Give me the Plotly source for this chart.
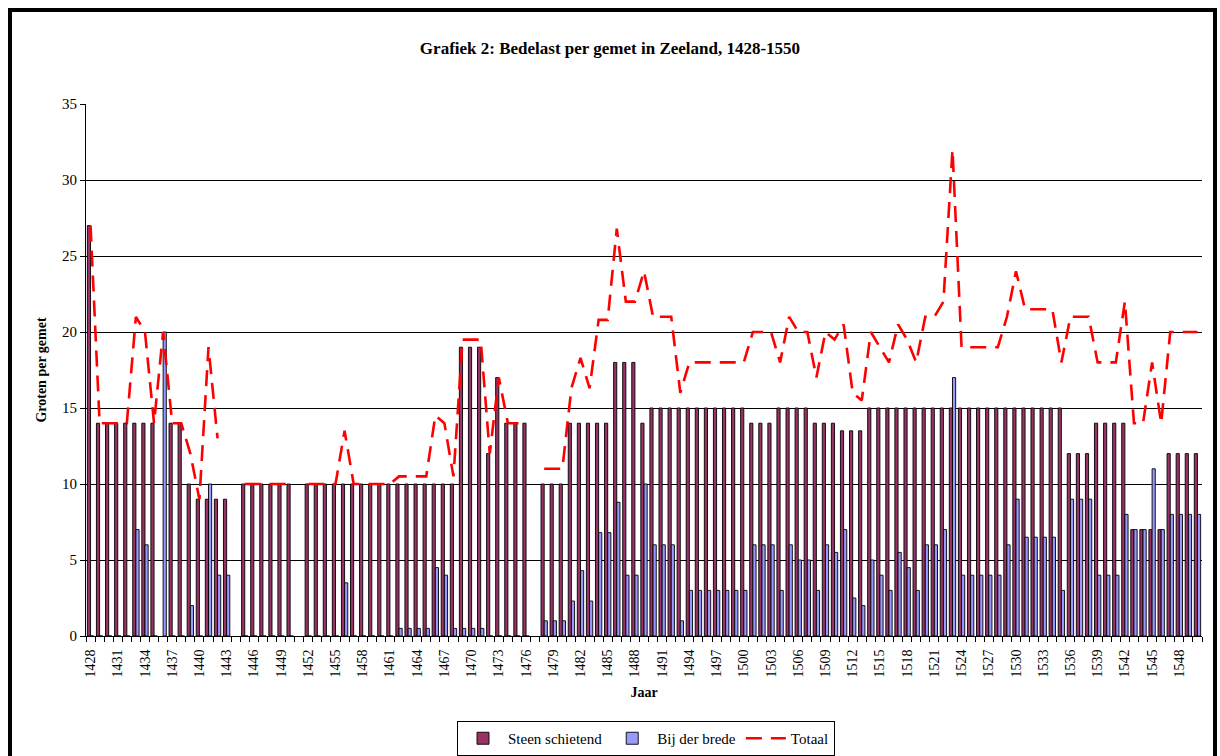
import plotly.graph_objects as go

# ---- data ----
years = list(range(1428, 1551))

steen_schietend = [
    27, 14, 14, 14, 14, 14, 14, 14, None, 14,          # 1428-1437
    14, 10, 9, 9, 9, 9, None, 10, 10, 10,              # 1438-1447
    10, 10, 10, None, 10, 10, 10, 10, 10, 10,          # 1448-1457
    10, 10, 10, 10, 10, 10, 10, 10, 10, 10,            # 1458-1467
    10, 19, 19, 19, 12, 17, 14, 14, 14, None,          # 1468-1477
    10, 10, 10, 14, 14, 14, 14, 14, 18, 18,            # 1478-1487
    18, 14, 15, 15, 15, 15, 15, 15, 15, 15,            # 1488-1497
    15, 15, 15, 14, 14, 14, 15, 15, 15, 15,            # 1498-1507
    14, 14, 14, 13.5, 13.5, 13.5, 15, 15, 15, 15,      # 1508-1517
    15, 15, 15, 15, 15, 15, 15, 15, 15, 15,            # 1518-1527
    15, 15, 15, 15, 15, 15, 15, 15, 12, 12,            # 1528-1537
    12, 14, 14, 14, 14, 7, 7, 7, 7, 12,                # 1538-1547
    12, 12, 12,                                        # 1548-1550
]

bij_der_brede = [
    0, 0, 0, 0, 0, 7, 6, 0, 20, 0,                     # 1428-1437
    0, 2, 0, 10, 4, 4, None, 0, 0, 0,                  # 1438-1447
    0, 0, 0, None, 0, 0, 0, 0, 3.5, 0,                 # 1448-1457
    0, 0, 0, 0, 0.5, 0.5, 0.5, 0.5, 4.5, 4,            # 1458-1467
    0.5, 0.5, 0.5, 0.5, 0, 0, 0, 0, 0, None,           # 1468-1477
    1, 1, 1, 2.3, 4.3, 2.3, 6.8, 6.8, 8.8, 4,          # 1478-1487
    4, 10, 6, 6, 6, 1, 3, 3, 3, 3,                     # 1488-1497
    3, 3, 3, 6, 6, 6, 3, 6, 5, 5,                      # 1498-1507
    3, 6, 5.5, 7, 2.5, 2, 5, 4, 3, 5.5,                # 1508-1517
    4.5, 3, 6, 6, 7, 17, 4, 4, 4, 4,                   # 1518-1527
    4, 6, 9, 6.5, 6.5, 6.5, 6.5, 3, 9, 9,              # 1528-1537
    9, 4, 4, 4, 8, 7, 7, 11, 7, 8,                     # 1538-1547
    8, 8, 8,                                           # 1548-1550
]

totaal = [
    27, 14, 14, 14, 14, 21, 20, 14, 20, 14,            # 1428-1437
    14, 12, 9, 19, 13, None, None, 10, 10, 10,         # 1438-1447
    10, 10, 10, None, 10, 10, 10, 10, 13.5, 10,        # 1448-1457
    10, 10, 10, 10, 10.5, 10.5, 10.5, 10.5, 14.5, 14,  # 1458-1467
    10.5, 19.5, 19.5, 19.5, 12, 17, 14, 14, 14, None,  # 1468-1477
    11, 11, 11, 16.3, 18.3, 16.3, 20.8, 20.8, 26.8, 22, # 1478-1487
    22, 24, 21, 21, 21, 16, 18, 18, 18, 18,            # 1488-1497
    18, 18, 18, 20, 20, 20, 18, 21, 20, 20,            # 1498-1507
    17, 20, 19.5, 20.5, 16, 15.5, 20, 19, 18, 20.5,    # 1508-1517
    19.5, 18, 21, 21, 22, 32, 19, 19, 19, 19,          # 1518-1527
    19, 21, 24, 21.5, 21.5, 21.5, 21.5, 18, 21, 21,    # 1528-1537
    21, 18, 18, 18, 22, 14, 14, 18, 14, 20,            # 1538-1547
    20, 20, 20,                                        # 1548-1550
]

tick_years = years[::3]
tick_labels = [str(y) for y in tick_years]

FONT = "Liberation Serif, Times New Roman, serif"

fig = go.Figure()
fig.add_trace(go.Bar(
    x=years, y=steen_schietend, name="Steen schietend",
    marker=dict(color="#993366", line=dict(color="#000000", width=0.9)),
))
fig.add_trace(go.Bar(
    x=years, y=bij_der_brede, name="Bij der brede",
    marker=dict(color="#9999FF", line=dict(color="#000000", width=0.9)),
))
fig.add_trace(go.Scatter(
    x=years, y=totaal, name="Totaal", mode="lines",
    line=dict(color="#FF0000", width=2.6, dash="16px,9px"),
    connectgaps=False,
))

# chart outer frame
L, R, T, B = 86, 18, 104, 120
W, H = 1220, 756
pw, ph = W - L - R, H - T - B
def px(x):
    return (x - L) / pw
def py(y):
    return (H - B - y) / ph

fig.add_shape(type="rect", xref="paper", yref="paper",
              x0=px(10), x1=px(1215), y0=py(790), y1=py(10),
              line=dict(color="black", width=4), layer="above")

fig.update_layout(
    width=W, height=H,
    margin=dict(l=L, r=R, t=T, b=B, autoexpand=False),
    paper_bgcolor="white", plot_bgcolor="white",
    barmode="group", bargap=0.3, bargroupgap=0.0,
    font=dict(family=FONT, color="black", size=14),
    title=dict(text="<b>Grafiek 2: Bedelast per gemet in Zeeland, 1428-1550</b>",
               x=0.5, xref="container", xanchor="center",
               y=1 - 48 / H, yref="container", yanchor="middle",
               font=dict(family=FONT, size=17, color="black"),
               automargin=False),
    showlegend=True,
    legend=dict(orientation="h", x=px(646), xanchor="center",
                y=py(721), yanchor="top",
                bordercolor="black", borderwidth=1,
                font=dict(family=FONT, size=15, color="black"),
                itemwidth=40, traceorder="normal",
                tracegroupgap=0),
    xaxis=dict(
        range=[1427.5, 1550.5], tickmode="array",
        tickvals=tick_years, ticktext=tick_labels, tickangle=-90,
        ticks="", ticklabelstandoff=7, automargin=False,
        showline=True, linecolor="black", linewidth=1,
        showgrid=False, zeroline=False,
        tickfont=dict(family=FONT, size=14, color="black"),
        minor=dict(tickmode="array",
                   tickvals=[y - 0.5 for y in years] + [years[-1] + 0.5],
                   ticks="outside", ticklen=5, tickcolor="black",
                   tickwidth=1, showgrid=False),
        title=dict(text="<b>Jaar</b>", standoff=10,
                   font=dict(family=FONT, size=14, color="black")),
    ),
    yaxis=dict(
        range=[0, 35], dtick=5, tick0=0, automargin=False,
        ticks="outside", ticklen=5, tickcolor="black",
        showline=True, linecolor="black", linewidth=1,
        showgrid=True, gridcolor="#000000", gridwidth=1,
        zeroline=False,
        tickfont=dict(family=FONT, size=15, color="black"),
        title=dict(text="<b>Groten per gemet</b>", standoff=12,
                   font=dict(family=FONT, size=14, color="black")),
    ),
)

fig.write_html("out.html",
               config={"displayModeBar": False},
               post_script="document.body.style.margin='0';document.body.style.padding='0';")
